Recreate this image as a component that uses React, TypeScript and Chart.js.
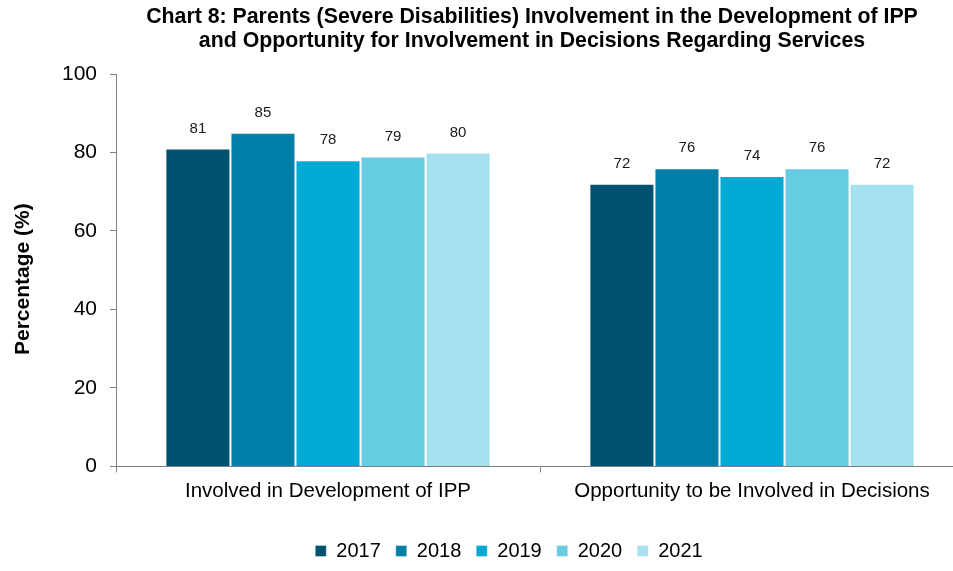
import React, { useEffect, useRef } from "react";
import { Chart, registerables } from "chart.js";

Chart.register(...registerables);

const categories = ["Involved in Development of IPP", "Opportunity to be Involved in Decisions"];
const years = ["2017", "2018", "2019", "2020", "2021"];
const values2017 = [81, 72];
const values2018 = [85, 76];
const values2019 = [78, 74];
const values2020 = [79, 76];
const values2021 = [80, 72];
const seriesValues = [values2017, values2018, values2019, values2020, values2021];
const seriesColors = ["#00506F", "#0080A8", "#00AAD4", "#66CCE2", "#A6E1EF"];
const titleLines = [
  "Chart 8: Parents (Severe Disabilities) Involvement in the Development of IPP",
  "and Opportunity for Involvement in Decisions Regarding Services",
];
const yTitle = "Percentage (%)";

const FONT = "'Liberation Sans', Arial, Helvetica, sans-serif";

const valueLabels = {
  id: "valueLabels",
  afterDatasetsDraw(chart: any) {
    const ctx = chart.ctx;
    ctx.save();
    ctx.font = `15px ${FONT}`;
    ctx.fillStyle = "#1a1a1a";
    ctx.textAlign = "center";
    ctx.textBaseline = "middle";
    chart.data.datasets.forEach((ds: any, i: number) => {
      const meta = chart.getDatasetMeta(i);
      meta.data.forEach((bar: any, j: number) => {
        ctx.fillText(String(ds.data[j]), bar.x, bar.y - 20);
      });
    });
    ctx.restore();
  },
};

const chartTexts = {
  id: "chartTexts",
  afterDraw(chart: any) {
    const ctx = chart.ctx;
    const area = chart.chartArea;
    const cx = (area.left + area.right) / 2 - 8;
    ctx.save();
    ctx.font = `bold 21.3px ${FONT}`;
    ctx.fillStyle = "#000";
    ctx.textAlign = "center";
    ctx.textBaseline = "middle";
    titleLines.forEach((line, i) => {
      ctx.fillText(line, cx, 17 + i * 24);
    });
    ctx.translate(23, (area.top + area.bottom) / 2 + 9);
    ctx.rotate(-Math.PI / 2);
    ctx.font = `bold 21px ${FONT}`;
    ctx.fillText(yTitle, 0, 0);
    ctx.restore();
  },
};

export default function App() {
  const ref = useRef<HTMLCanvasElement | null>(null);
  useEffect(() => {
    if (!ref.current) return;
    const chart = new Chart(ref.current, {
      type: "bar",
      data: {
        labels: categories,
        datasets: years.map((y, i) => ({
          label: y,
          data: seriesValues[i],
          backgroundColor: seriesColors[i],
          borderColor: "rgba(255,255,255,0.35)",
          borderWidth: 1,
          barPercentage: 1,
          categoryPercentage: 0.767,
        })),
      },
      options: {
        animation: false,
        responsive: true,
        maintainAspectRatio: false,
        layout: { padding: { left: 0, right: 0, top: 74, bottom: 0 } },
        plugins: {
          title: { display: false },
          legend: {
            position: "bottom",
            labels: {
              color: "#000",
              font: { family: FONT, size: 20 },
              boxWidth: 11,
              boxHeight: 11,
              padding: 15,
            },
          },
          tooltip: { enabled: false },
        },
        scales: {
          x: {
            afterFit(scale: any) {
              scale.height += 15;
            },
            grid: {
              display: true,
              drawOnChartArea: false,
              drawTicks: true,
              tickLength: 6,
              tickColor: "#808080",
              offset: true,
            },
            border: { display: true, color: "#808080", width: 1 },
            ticks: {
              color: "#000",
              font: { family: FONT, size: 20.5 },
              padding: 7,
              maxRotation: 0,
            },
          },
          y: {
            min: 0,
            max: 100,
            afterFit(scale: any) {
              scale.width = 116;
            },
            grid: {
              display: true,
              drawOnChartArea: false,
              drawTicks: true,
              tickLength: 6,
              tickColor: "#808080",
            },
            border: { display: true, color: "#808080", width: 1 },
            ticks: {
              stepSize: 20,
              color: "#000",
              font: { family: FONT, size: 21 },
              padding: 13,
            },
            title: { display: false },
          },
          yRight: {
            position: "right",
            display: true,
            afterFit(scale: any) {
              scale.width = 54;
            },
            grid: { display: false, drawTicks: false },
            border: { display: false },
            ticks: { display: false },
          },
        },
      },
      plugins: [valueLabels, chartTexts],
    });
    return () => chart.destroy();
  }, []);
  return (
    <div
      style={{
        position: "fixed",
        left: 0,
        top: 0,
        width: 953,
        height: 571,
        overflow: "hidden",
        background: "#fff",
      }}
    >
      <div style={{ position: "relative", width: 1018, height: 571 }}>
        <canvas ref={ref} />
      </div>
    </div>
  );
}
